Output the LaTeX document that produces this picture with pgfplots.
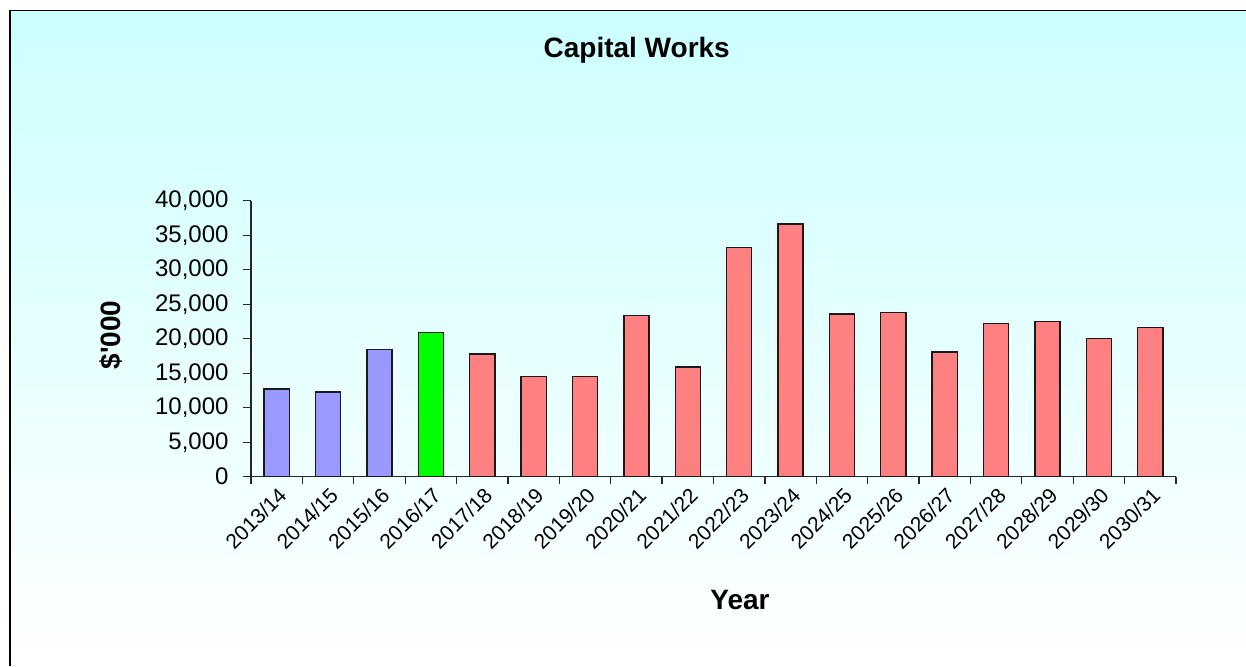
\documentclass[border=0pt]{standalone}
\usepackage{fontspec}
\setmainfont{Liberation Sans}
\usepackage{pgfplots}
\pgfplotsset{compat=1.18}
\definecolor{bgtop}{RGB}{204,255,255}
\definecolor{barblue}{RGB}{153,153,255}
\definecolor{bargreen}{RGB}{0,255,0}
\definecolor{barred}{RGB}{255,128,128}
\begin{document}
\begin{tikzpicture}[x=1pt,y=1pt]
\useasboundingbox (0,0) rectangle (1246,666);
\fill[white] (0,0) rectangle (1246,666);
\shade[top color=bgtop, bottom color=white] (10,0) rectangle (1246,655.5);
\draw[black, line width=1.6pt] (10,0) -- (10,655.5) -- (1246,655.5);
\begin{axis}[
  at={(251pt,189.3pt)}, anchor=south west,
  scale only axis, width=925pt, height=276pt,
  xmin=-0.5, xmax=17.5, ymin=0, ymax=40000,
  axis lines=left,
  axis line style={-, black!85, line width=1.3pt},
  tick align=outside,
  xtick={0,...,17},
  xticklabels={2013/14,2014/15,2015/16,2016/17,2017/18,2018/19,2019/20,2020/21,2021/22,2022/23,2023/24,2024/25,2025/26,2026/27,2027/28,2028/29,2029/30,2030/31},
  major x tick style={draw=none},
  minor xtick={-0.5,0.5,...,17.5},
  minor tick length=7pt,
  major tick length=8pt,
  tick style={black!85, line width=1.3pt},
  ytick={0,5000,...,40000},
  scaled y ticks=false,
  /pgf/number format/.cd, fixed, 1000 sep={,}, assume math mode=true,
  /pgfplots/.cd,
  yticklabel style={font=\fontsize{24}{28}\selectfont, black, xshift=-11pt},
  xticklabel style={font=\fontsize{21}{25}\selectfont, black, rotate=45, anchor=east, yshift=-9pt, xshift=3pt},
  clip=false,
]
\addplot[ybar, bar width=0.49, bar shift=0pt, fill=barblue, draw=black!90, line width=1.4pt]
  coordinates {(0,12700) (1,12300) (2,18400)};
\addplot[ybar, bar width=0.49, bar shift=0pt, fill=bargreen, draw=black!90, line width=1.4pt]
  coordinates {(3,20900)};
\addplot[ybar, bar width=0.49, bar shift=0pt, fill=barred, draw=black!90, line width=1.4pt]
  coordinates {(4,17800) (5,14500) (6,14500) (7,23400) (8,15900) (9,33200) (10,36600) (11,23600) (12,23800) (13,18100) (14,22200) (15,22500) (16,20000) (17,21600)};
\end{axis}
\node[font=\fontsize{28}{32}\selectfont\bfseries] at (636.7,616) {Capital Works};
\node[font=\fontsize{28}{32}\selectfont\bfseries, rotate=90] at (110.7,331) {\$\textquotesingle 000};
\node[font=\fontsize{28}{32}\selectfont\bfseries] at (740,66) {Year};
\end{tikzpicture}
\end{document}
